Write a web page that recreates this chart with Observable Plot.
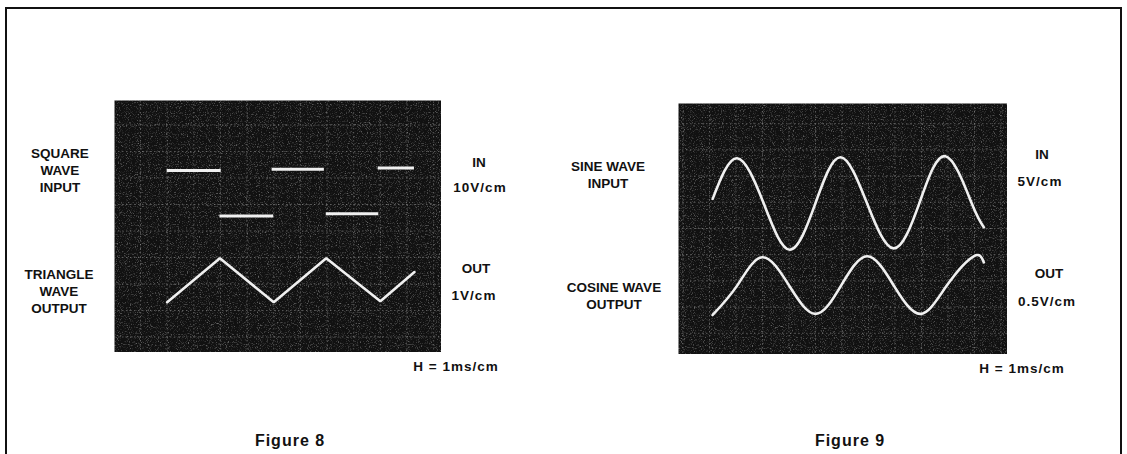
<!DOCTYPE html>
<html>
<head>
<meta charset="utf-8">
<script src="https://cdn.jsdelivr.net/npm/d3@7"></script>
<script src="https://cdn.jsdelivr.net/npm/@observablehq/plot@0.6"></script>
<style>
  html, body { margin: 0; padding: 0; background: #fff; }
  #page { position: relative; width: 1127px; height: 454px; overflow: hidden;
          font-family: "Liberation Sans", Arial, Helvetica, sans-serif; }
  #border { position: absolute; left: 5px; top: 7px; width: 1113px; height: 520px;
            border: 2px solid #111; border-bottom: none; }
  .lbl { position: absolute; transform: translate(-50%, -50%); font-weight: bold;
         font-size: 13.5px; color: #111; text-align: center; line-height: 17px; white-space: nowrap; }
  .unit { letter-spacing: 1px; }
  .fig { font-size: 16px; letter-spacing: 1px; }
  .scope { position: absolute; }
</style>
</head>
<body>
<div id="page">
  <div id="border"></div>
  <div id="scope8" class="scope" style="left:114px; top:100px;"></div>
  <div id="scope9" class="scope" style="left:678px; top:103px;"></div>

  <div class="lbl" style="left:60px; top:170px;">SQUARE<br>WAVE<br>INPUT</div>
  <div class="lbl" style="left:59px; top:291px;">TRIANGLE<br>WAVE<br>OUTPUT</div>
  <div class="lbl" style="left:479px; top:162px;">IN</div>
  <div class="lbl unit" style="left:480px; top:187px;">10V/cm</div>
  <div class="lbl" style="left:476px; top:268px;">OUT</div>
  <div class="lbl unit" style="left:474px; top:295px;">1V/cm</div>
  <div class="lbl unit" style="left:456px; top:366px;">H = 1ms/cm</div>
  <div class="lbl fig" style="left:290px; top:440px;">Figure 8</div>

  <div class="lbl" style="left:608px; top:175px;">SINE WAVE<br>INPUT</div>
  <div class="lbl" style="left:614px; top:296px;">COSINE WAVE<br>OUTPUT</div>
  <div class="lbl" style="left:1042px; top:154px;">IN</div>
  <div class="lbl unit" style="left:1040px; top:181px;">5V/cm</div>
  <div class="lbl" style="left:1049px; top:273px;">OUT</div>
  <div class="lbl unit" style="left:1047px; top:301px;">0.5V/cm</div>
  <div class="lbl unit" style="left:1022px; top:368px;">H = 1ms/cm</div>
  <div class="lbl fig" style="left:850px; top:440px;">Figure 9</div>
</div>
<script>
// ---- Data (time in ms at 1 ms/cm, amplitude in screen divisions) ----
// Graticule
const gridT = [-1, 0, 1, 2, 3, 4, 5, 6, 7, 8, 9, 10, 11];
const gridV = [-4, -3, -2, -1, 0, 1, 2, 3, 4];

// Figure 8: square wave input (horizontal segments)
const squareStart = [1.0, 2.98, 4.94, 6.97, 8.92];
const squareEnd   = [3.03, 5.0, 6.9, 8.94, 10.28];
const squareLevel = [2.28, 0.57, 2.33, 0.65, 2.38];
// Figure 8: triangle wave output (vertices)
const triangleT = [1.0, 2.98, 5.0, 6.97, 9.0, 10.28];
const triangleV = [-2.69, -1.03, -2.69, -1.03, -2.65, -1.55];

// Figure 9: sine wave input (start, peaks, crossings, troughs, end)
const sineT = [0.12, 1.04, 2.04, 3.03, 4.0, 4.94, 5.94, 6.95, 7.92, 8.9, 9.89, 10.35];
const sineV = [1.13, 2.68, 0.97, -0.81, 0.97, 2.72, 0.97, -0.76, 0.97, 2.76, 0.97, 0.05];
// Figure 9: cosine wave output
const cosT = [0.12, 1.05, 1.99, 3.0, 4.0, 4.97, 5.95, 6.95, 7.96, 8.96, 9.97, 10.35];
const cosV = [-3.3, -2.17, -1.1, -2.17, -3.26, -2.17, -1.06, -2.17, -3.26, -2.17, -1.06, -1.29];

// ---- Tables built from the arrays ----
const squareSegs = squareStart.map((t1, i) => ({t1, t2: squareEnd[i], v: squareLevel[i]}));
const tri = triangleT.map((t, i) => ({t, v: triangleV[i]}));
const sine = sineT.map((t, i) => ({t, v: sineV[i]}));
const cosine = cosT.map((t, i) => ({t, v: cosV[i]}));

const traceColor = "#f0f0f0";
const gridStyle = {stroke: "#9a9a9a", strokeOpacity: 0.5, strokeWidth: 1, strokeDasharray: "1.5,2.5"};

function addGrain(svg, id) {
  const ns = "http://www.w3.org/2000/svg";
  const defs = document.createElementNS(ns, "defs");
  defs.innerHTML = `<filter id="${id}" x="0" y="0" width="100%" height="100%">
    <feTurbulence type="fractalNoise" baseFrequency="0.9" numOctaves="2" seed="7"/>
    <feColorMatrix type="matrix" values="0 0 0 0 1  0 0 0 0 1  0 0 0 0 1  3 0 0 0 -1.6"/>
  </filter>`;
  svg.insertBefore(defs, svg.firstChild);
  const frame = svg.querySelector("rect");
  const r = document.createElementNS(ns, "rect");
  r.setAttribute("x", 0); r.setAttribute("y", 0);
  r.setAttribute("width", svg.getAttribute("width"));
  r.setAttribute("height", svg.getAttribute("height"));
  r.setAttribute("filter", `url(#${id})`);
  r.setAttribute("opacity", "0.38");
  if (frame && frame.parentNode) frame.parentNode.insertBefore(r, frame.nextSibling);
  else svg.appendChild(r);
}

// Figure 8 scope: 327 x 252 px, 26.65 px per ms, 26.5 px per division
const fig8 = Plot.plot({
  width: 327, height: 252, margin: 0,
  style: {background: "transparent"},
  x: {domain: [-26 / 26.65, 301 / 26.65], axis: null},
  y: {domain: [(130.5 - 252) / 26.5, 130.5 / 26.5], axis: null},
  marks: [
    Plot.frame({fill: "#111111", stroke: "none"}),
    Plot.ruleX(gridT, gridStyle),
    Plot.ruleY(gridV, gridStyle),
    Plot.ruleY(squareSegs, {y: "v", x1: "t1", x2: "t2", stroke: traceColor, strokeWidth: 3}),
    Plot.line(tri, {x: "t", y: "v", stroke: traceColor, strokeWidth: 2.6, strokeLinejoin: "miter"})
  ]
});
addGrain(fig8, "grain8");
document.getElementById("scope8").appendChild(fig8);

// Figure 9 scope: 329 x 251 px, 26.5 px per ms, 26.2 px per division
const fig9 = Plot.plot({
  width: 329, height: 251, margin: 0,
  style: {background: "transparent"},
  x: {domain: [-31 / 26.5, 298 / 26.5], axis: null},
  y: {domain: [(125 - 251) / 26.2, 125 / 26.2], axis: null},
  marks: [
    Plot.frame({fill: "#111111", stroke: "none"}),
    Plot.ruleX(gridT, gridStyle),
    Plot.ruleY(gridV, gridStyle),
    Plot.line(sine, {x: "t", y: "v", curve: "natural", stroke: traceColor, strokeWidth: 2.6}),
    Plot.line(cosine, {x: "t", y: "v", curve: "natural", stroke: traceColor, strokeWidth: 2.6})
  ]
});
addGrain(fig9, "grain9");
document.getElementById("scope9").appendChild(fig9);
</script>
</body>
</html>
